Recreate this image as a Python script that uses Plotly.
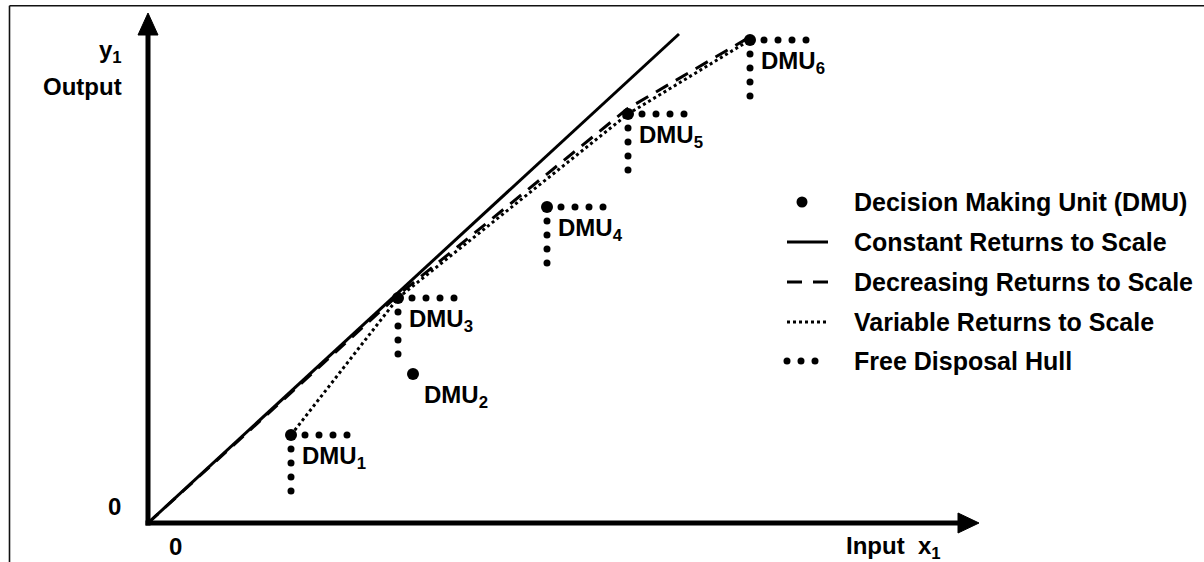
import plotly.graph_objects as go

# ---------------- data ----------------
dmu_labels = ["DMU<sub>1</sub>", "DMU<sub>2</sub>", "DMU<sub>3</sub>",
              "DMU<sub>4</sub>", "DMU<sub>5</sub>", "DMU<sub>6</sub>"]
dmu_x = [2.86, 5.30, 5.00, 7.98, 9.60, 12.04]
dmu_y = [1.76, 2.98, 4.50, 6.32, 8.18, 9.66]

crs_x = [0.0, 10.62]
crs_y = [0.0, 9.78]

drs_x = [0.0, 4.98, 9.58, 12.00]
drs_y = [0.0, 4.54, 8.28, 9.70]

vrs_idx = [0, 2, 4, 5]          # DMUs spanning the VRS frontier
fdh_idx = [0, 2, 3, 4, 5]       # FDH-efficient DMUs
fdh_steps = [1, 2, 3, 4]        # dots per staircase arm
fdh_step = 0.28                 # spacing of FDH dots (axis units)

legend_labels = ["Decision Making Unit (DMU)", "Constant Returns to Scale",
                 "Decreasing Returns to Scale", "Variable Returns to Scale",
                 "Free Disposal Hull"]

# ---------------- layout helpers (pixel -> axis units) ----------------
W, H = 1204, 562
OX, OY, S = 148, 523, 50.0
def px(x): return (x - OX) / S
def py(y): return (OY - y) / S

FONT = "Liberation Sans, Arial, Helvetica, sans-serif"
BLACK = "#000000"

fig = go.Figure()

# CRS
fig.add_trace(go.Scatter(x=crs_x, y=crs_y, mode="lines",
                         line=dict(color=BLACK, width=3), showlegend=False, hoverinfo="skip"))
# DRS
fig.add_trace(go.Scatter(x=drs_x, y=drs_y, mode="lines",
                         line=dict(color=BLACK, width=3, dash="14px,9px"), showlegend=False, hoverinfo="skip"))
# VRS
fig.add_trace(go.Scatter(x=[dmu_x[i] for i in vrs_idx], y=[dmu_y[i] for i in vrs_idx], mode="lines",
                         line=dict(color=BLACK, width=3, dash="3px,3px"), showlegend=False, hoverinfo="skip"))
# FDH staircase dots
fx, fy = [], []
for i in fdh_idx:
    for k in fdh_steps:
        fx.append(dmu_x[i] + k * fdh_step); fy.append(dmu_y[i])
        fx.append(dmu_x[i]); fy.append(dmu_y[i] - k * fdh_step)
fig.add_trace(go.Scatter(x=fx, y=fy, mode="markers",
                         marker=dict(color=BLACK, size=7), showlegend=False, hoverinfo="skip"))
# DMUs
fig.add_trace(go.Scatter(x=dmu_x, y=dmu_y, mode="markers",
                         marker=dict(color=BLACK, size=12), showlegend=False, hoverinfo="skip"))

annotations = []
for lab, x, y in zip(dmu_labels, dmu_x, dmu_y):
    annotations.append(dict(x=x, y=y, text=lab, showarrow=False,
                            xanchor="left", yanchor="middle", xshift=9, yshift=-22,
                            font=dict(family=FONT, size=24, color=BLACK, weight="bold")))

def label(xp, yp, text, anchor, size=24):
    annotations.append(dict(x=px(xp), y=py(yp), text=text, showarrow=False,
                            xanchor=anchor, yanchor="middle",
                            font=dict(family=FONT, size=size, color=BLACK, weight="bold")))

label(124, 51, "y<sub>1</sub>", "right")
label(124, 86, "Output", "right")
label(123, 506, "0", "right")
label(175, 546, "0", "center")
label(943, 547, "Input\u00a0\u00a0x<sub>1</sub>", "right")

# ---------------- hand-made legend ----------------
rows = [202, 242, 282, 322, 361]
for lab, r in zip(legend_labels, rows):
    label(852, r, lab, "left", size=25)

fig.add_trace(go.Scatter(x=[px(802)], y=[py(rows[0])], mode="markers",
                         marker=dict(color=BLACK, size=11), showlegend=False, hoverinfo="skip"))
fig.add_trace(go.Scatter(x=[px(787), px(828)], y=[py(rows[1])] * 2, mode="lines",
                         line=dict(color=BLACK, width=3), showlegend=False, hoverinfo="skip"))
fig.add_trace(go.Scatter(x=[px(787), px(828)], y=[py(rows[2])] * 2, mode="lines",
                         line=dict(color=BLACK, width=3, dash="15px,11px"), showlegend=False, hoverinfo="skip"))
fig.add_trace(go.Scatter(x=[px(787), px(828)], y=[py(rows[3])] * 2, mode="lines",
                         line=dict(color=BLACK, width=3, dash="3px,3px"), showlegend=False, hoverinfo="skip"))
fig.add_trace(go.Scatter(x=[px(787), px(801), px(815)], y=[py(rows[4])] * 3, mode="markers",
                         marker=dict(color=BLACK, size=7), showlegend=False, hoverinfo="skip"))

# ---------------- axes with arrows & frame ----------------
shapes = [
    dict(type="line", xref="x", yref="y", x0=px(145.5), y0=0, x1=px(960), y1=0,
         line=dict(color=BLACK, width=5)),
    dict(type="line", xref="x", yref="y", x0=0, y0=py(525.5), x1=0, y1=py(33),
         line=dict(color=BLACK, width=5)),
    dict(type="path", xref="x", yref="y",
         path=f"M{px(958)},{py(513)} L{px(979)},{py(523)} L{px(958)},{py(533)} Z",
         fillcolor=BLACK, line=dict(color=BLACK, width=1)),
    dict(type="path", xref="x", yref="y",
         path=f"M{px(138)},{py(35)} L{px(148)},{py(13)} L{px(158)},{py(35)} Z",
         fillcolor=BLACK, line=dict(color=BLACK, width=1)),
    # frame (top and left edges)
    dict(type="line", xref="paper", yref="paper", x0=9.5 / W, y0=1 - 5.8 / H, x1=1.01, y1=1 - 5.8 / H,
         line=dict(color="#111111", width=1.6)),
    dict(type="line", xref="paper", yref="paper", x0=9.5 / W, y0=1 - 5.8 / H, x1=9.5 / W, y1=-0.01,
         line=dict(color="#111111", width=1.6)),
]

fig.update_layout(
    width=W, height=H,
    margin=dict(l=0, r=0, t=0, b=0),
    paper_bgcolor="white", plot_bgcolor="white",
    xaxis=dict(range=[px(0), px(W)], visible=False, fixedrange=True),
    yaxis=dict(range=[py(H), py(0)], visible=False, fixedrange=True),
    showlegend=False,
    annotations=annotations,
    shapes=shapes,
)

fig.write_html("out.html", config={"displayModeBar": False},
               post_script="document.body.style.margin='0px';document.body.style.overflow='hidden';")
